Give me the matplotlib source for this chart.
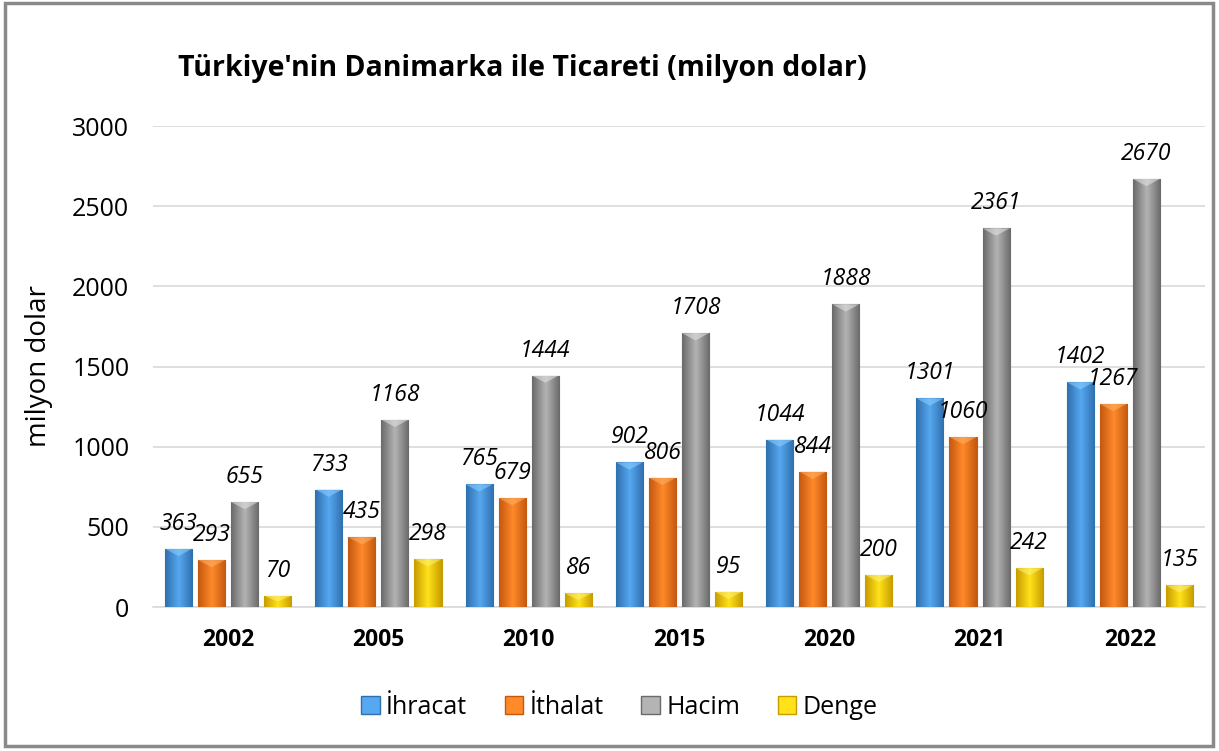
import numpy as np
import matplotlib

matplotlib.use("Agg")
import matplotlib.pyplot as plt
from matplotlib.patches import Rectangle, Patch, Polygon
from matplotlib.colors import LinearSegmentedColormap

plt.rcParams["font.family"] = ["Open Sans", "DejaVu Sans"]

years = ["2002", "2005", "2010", "2015", "2020", "2021", "2022"]
ihracat = [363, 733, 765, 902, 1044, 1301, 1402]
ithalat = [293, 435, 679, 806, 844, 1060, 1267]
hacim = [655, 1168, 1444, 1708, 1888, 2361, 2670]
denge = [70, 298, 86, 95, 200, 242, 135]

series = [
    ("İhracat", ihracat, ("#2f6fae", "#56a8f0", "#2f6fae"), "#8fd0ff"),
    ("İthalat", ithalat, ("#c4580f", "#ff8a2a", "#c4580f"), "#ffb26a"),
    ("Hacim", hacim, ("#6a6a6a", "#b4b4b4", "#6a6a6a"), "#e6e6e6"),
    ("Denge", denge, ("#c79c00", "#ffe21a", "#c79c00"), "#fff27a"),
]

fig = plt.figure(figsize=(12.19, 7.51), dpi=100)
ax = fig.add_axes([0.1255, 0.1917, 0.863, 0.6405])

x = np.arange(len(years))
offsets = [-0.33, -0.11, 0.11, 0.33]
width = 0.18
grad = np.linspace(0, 1, 64).reshape(1, -1)

ax.set_xlim(-0.5, len(years) - 0.5)
ax.set_ylim(0, 3000)

handles = []
for (name, vals, cols, light), off in zip(series, offsets):
    cmap = LinearSegmentedColormap.from_list(name, list(cols))
    bars = ax.bar(x + off, vals, width, color=cols[1], edgecolor=cols[0],
                  linewidth=0.8, zorder=3)
    for b, v in zip(bars, vals):
        x0, w, h = b.get_x(), b.get_width(), b.get_height()
        im = ax.imshow(grad, cmap=cmap, aspect="auto", zorder=3.5,
                       extent=(x0, x0 + w, 0, h))
        im.set_clip_path(b)
        # small bevel highlight at the top of each bar
        bev = min(h * 0.5, 45)
        ax.add_patch(Polygon([(x0, h), (x0 + w, h), (x0 + w / 2, h - bev)],
                             closed=True, facecolor=light, edgecolor="none",
                             alpha=0.55, zorder=3.6))
        ax.annotate(str(v), (x0 + w / 2, h), xytext=(0, 18),
                    textcoords="offset points", ha="center", va="center",
                    fontsize=16.5, style="italic", zorder=5, annotation_clip=False)
    handles.append(Patch(facecolor=cols[1], edgecolor=cols[0], label=name))

ax.set_yticks(range(0, 3001, 500))
ax.set_xticks(x)
ax.set_xticklabels(years, fontsize=16.5, fontweight="bold")
ax.tick_params(axis="y", labelsize=18, length=0, pad=17)
ax.tick_params(axis="x", length=0, pad=15)
ax.grid(axis="y", color="#d9d9d9", linewidth=1.2, zorder=0)
for s in ["top", "right", "left"]:
    ax.spines[s].set_visible(False)
ax.spines["bottom"].set_color("#d9d9d9")
ax.spines["bottom"].set_linewidth(1.2)
ax.set_ylabel("milyon dolar", fontsize=20, labelpad=14)

fig.text(0.146, 0.909, "Türkiye'nin Danimarka ile Ticareti (milyon dolar)",
         fontsize=20.5, fontweight="bold", va="center", ha="left")

fig.legend(handles=handles, loc="center", bbox_to_anchor=(0.508, 0.058),
           ncol=4, frameon=False, fontsize=18, handlelength=0.75,
           handleheight=0.75, handletextpad=0.25, columnspacing=1.5)

fig.patches.append(Rectangle((0.004, 0.006), 0.991, 0.99, transform=fig.transFigure,
                             fill=False, edgecolor="#8a8a8a", linewidth=2.5))

fig.savefig("out.png", dpi=100)
